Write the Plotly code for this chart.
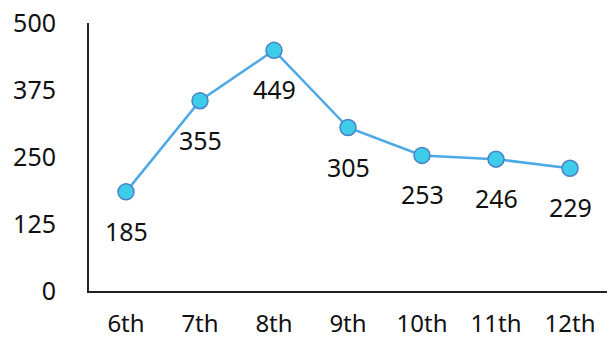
import plotly.graph_objects as go

categories = ["6th", "7th", "8th", "9th", "10th", "11th", "12th"]
values = [185, 355, 449, 305, 253, 246, 229]
y_ticks = [0, 125, 250, 375, 500]

fig = go.Figure()
fig.add_trace(go.Scatter(
    x=categories, y=values, mode="lines+markers",
    line=dict(color="#4DA8E6", width=2.5),
    marker=dict(size=16, color="#3DCDEB", line=dict(color="#4A80C4", width=1.5)),
    hoverinfo="skip", cliponaxis=False,
))
for c, v in zip(categories, values):
    fig.add_annotation(x=c, y=v, text=str(v), showarrow=False, yshift=-39,
                       font=dict(size=25, color="#111111", family="Noto Sans"))

fig.update_layout(
    width=610, height=341,
    margin=dict(l=89, r=3, t=23, b=50),
    paper_bgcolor="white", plot_bgcolor="white",
    showlegend=False,
    font=dict(family="Noto Sans", size=25, color="#111111"),
)
fig.update_xaxes(
    type="category", range=[-0.5, 6.5], showgrid=False, zeroline=False,
    showline=True, linecolor="#222222", linewidth=2, ticks="",
    ticklabelstandoff=10, automargin=False, tickfont=dict(size=24),
)
fig.update_yaxes(
    range=[0, 500], tickvals=y_ticks, showgrid=False, zeroline=False,
    showline=True, linecolor="#222222", linewidth=2, ticks="",
    ticklabelstandoff=26, automargin=False,
)
fig.write_html("out.html")
